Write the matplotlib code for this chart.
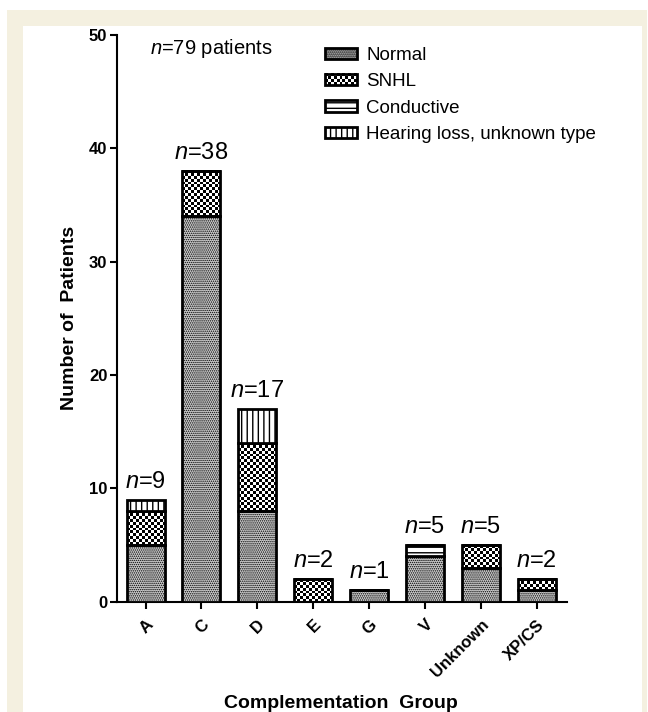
import matplotlib
matplotlib.use("Agg")
import matplotlib.pyplot as plt
from matplotlib.patches import Rectangle
from matplotlib.colors import ListedColormap
from matplotlib.legend_handler import HandlerBase
from matplotlib.image import BboxImage
from matplotlib.transforms import Bbox, TransformedBbox
import numpy as np

groups = ["A", "C", "D", "E", "G", "V", "Unknown", "XP/CS"]
normal = [5, 34, 8, 0, 1, 4, 3, 1]
snhl = [3, 4, 6, 2, 0, 0, 2, 1]
conductive = [0, 0, 0, 0, 0, 1, 0, 0]
hl_unknown = [1, 0, 3, 0, 0, 0, 0, 0]
series_names = ["Normal", "SNHL", "Conductive", "Hearing loss, unknown type"]
total_patients = 79

plt.rcParams['font.family'] = ['Liberation Sans', 'DejaVu Sans']
plt.rcParams['mathtext.fontset'] = 'custom'
plt.rcParams['mathtext.it'] = 'Liberation Sans:italic'
plt.rcParams['mathtext.rm'] = 'Liberation Sans'

W, H = 648, 712
DPI = 100
fig = plt.figure(figsize=(W / DPI, H / DPI), dpi=DPI, facecolor='white')

# cream frame and white panel behind the plot
fig.patches.append(Rectangle((7 / W, 0), 640 / W, 702 / H, transform=fig.transFigure,
                             facecolor='#f4f0e0', edgecolor='none', zorder=-10))
fig.patches.append(Rectangle((23 / W, 0), 619 / W, 686 / H, transform=fig.transFigure,
                             facecolor='white', edgecolor='none', zorder=-9))

ax_w, ax_h = 450, 566.7
ax = fig.add_axes([117 / W, 1 - 601.7 / H, ax_w / W, ax_h / H])
ax.patch.set_alpha(0)
xlim = (-0.51, 7.54)
ylim = (0, 50)

x = np.arange(len(groups))
width = 0.68
# (facecolor, hatch, hatch linewidth)
styles = [
    ('#cdcdcd', '........', 0.7),
    ('white', None, 1.0),
    ('white', '---', 1.0),
    ('white', '|||', 1.0),
]
cell = 2.85  # checker cell size for SNHL, px
checker_cmap = ListedColormap(['white', 'black'])


def checker(nrow, ncol):
    ii, jj = np.indices((nrow, ncol))
    return (ii + jj) % 2


bottom = np.zeros(len(groups))
bars = []
for vals, name, (fc, hatch, hlw) in zip([normal, snhl, conductive, hl_unknown],
                                        series_names, styles):
    vals = np.array(vals, dtype=float)
    with plt.rc_context({'hatch.linewidth': hlw, 'hatch.color': 'black'}):
        b = ax.bar(x, vals, width, bottom=bottom, facecolor=fc, edgecolor='black',
                   linewidth=2, hatch=hatch, label=name, zorder=3)
    bars.append(b)
    bottom += vals

# SNHL bars: coarse black/white checkerboard texture inside each bar
px_x = ax_w / (xlim[1] - xlim[0])
px_y = ax_h / (ylim[1] - ylim[0])
for p in bars[1]:
    h = p.get_height()
    if h <= 0:
        continue
    p.set_facecolor('none')
    ncol = max(1, int(round(p.get_width() * px_x / cell)))
    nrow = max(1, int(round(h * px_y / cell)))
    ax.imshow(checker(nrow, ncol), cmap=checker_cmap, vmin=0, vmax=1, origin='lower',
              interpolation='nearest', aspect='auto', zorder=2.5,
              extent=(p.get_x(), p.get_x() + p.get_width(), p.get_y(), p.get_y() + h))

totals = bottom
for xi, t in zip(x, totals):
    ax.annotate("$n$=%d" % t, (xi, t), xytext=(0, 5), textcoords='offset points',
                ha='center', va='bottom', fontsize=17)

ax.set_xlim(*xlim)
ax.set_ylim(*ylim)
ax.set_yticks([0, 10, 20, 30, 40, 50])
ax.set_xticks(x)
ax.set_xticklabels(groups, rotation=45, ha='right', rotation_mode='anchor',
                   fontweight='bold', fontsize=12)
for lab in ax.get_yticklabels():
    lab.set_fontweight('bold')
    lab.set_fontsize(12)
ax.tick_params(axis='both', direction='out', length=5, width=1.5, pad=2)
ax.tick_params(axis='x', pad=6)
for s in ['top', 'right']:
    ax.spines[s].set_visible(False)
for s in ['left', 'bottom']:
    ax.spines[s].set_linewidth(1.5)

fig.text(150 / W, 1 - 48 / H, "$n$=%d patients" % total_patients, fontsize=14.5,
         ha='left', va='center')
fig.text(70 / W, 1 - 318 / H, "Number of  Patients", rotation=90, fontsize=14,
         fontweight='bold', ha='center', va='center')
fig.text(341 / W, 1 - 703 / H, "Complementation  Group", fontsize=14,
         fontweight='bold', ha='center', va='center')


class CheckerHandler(HandlerBase):
    # legend key with the same checkerboard texture as the SNHL bars
    def create_artists(self, legend, orig_handle, xdescent, ydescent, width, height,
                       fontsize, trans):
        bb = TransformedBbox(Bbox.from_bounds(-xdescent, -ydescent, width, height), trans)
        ncol = max(1, int(round(width * DPI / 72 / cell)))
        nrow = max(1, int(round(height * DPI / 72 / cell)))
        img = BboxImage(bb, cmap=checker_cmap, norm=plt.Normalize(0, 1),
                        interpolation='nearest', origin='lower')
        img.set_data(checker(nrow, ncol))
        rect = Rectangle((-xdescent, -ydescent), width, height, facecolor='none',
                         edgecolor='black', linewidth=2, transform=trans)
        return [img, rect]


proxies = []
for name, (fc, hatch, hlw) in zip(series_names, styles):
    with plt.rc_context({'hatch.linewidth': hlw, 'hatch.color': 'black'}):
        proxies.append(Rectangle((0, 0), 1, 1, facecolor=fc, edgecolor='black',
                                 linewidth=2, hatch=hatch, label=name))
leg = ax.legend(handles=proxies, loc='upper left', bbox_to_anchor=(325 / W, 1 - 47 / H),
                bbox_transform=fig.transFigure, frameon=False, fontsize=13.5,
                handlelength=1.7, handleheight=0.55, handletextpad=0.5,
                labelspacing=0.5, borderpad=0, borderaxespad=0,
                handler_map={proxies[1]: CheckerHandler()})

fig.savefig("out.png", dpi=DPI, facecolor=fig.get_facecolor())
